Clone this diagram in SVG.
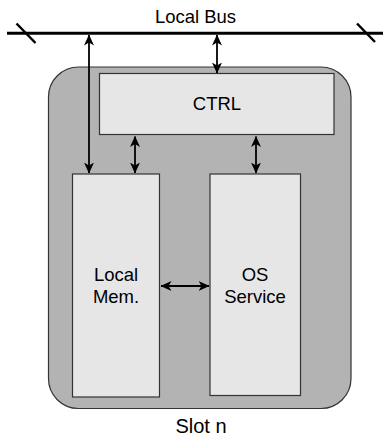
<svg xmlns="http://www.w3.org/2000/svg" width="383" height="437" viewBox="0 0 383 437">
<style>
.t{font-family:"Liberation Sans",Arial,sans-serif;font-size:18.5px;fill:#000;text-anchor:middle}
.box{fill:#e6e6e6;stroke:#333;stroke-width:1.2}
.c{stroke:#000;stroke-width:1.8;fill:none}
</style>
<defs>
<marker id="ah" viewBox="0 0 11 10" refX="10.5" refY="5" markerWidth="11" markerHeight="10" markerUnits="userSpaceOnUse" orient="auto-start-reverse">
<path d="M0,0 L11,5 L0,10 L3,5 z" fill="#000"/>
</marker>
</defs>
<rect width="383" height="437" fill="#fff"/>
<g id="bus">
<line x1="7" y1="33.3" x2="383" y2="33.3" stroke="#000" stroke-width="3"/>
<line x1="16.5" y1="23.5" x2="35.5" y2="43" stroke="#000" stroke-width="2.5"/>
<line x1="357" y1="23.5" x2="375" y2="42" stroke="#000" stroke-width="2.5"/>
<text class="t" x="195.5" y="23">Local Bus</text>
</g>
<g id="slot">
<rect x="48.5" y="67" width="302.5" height="341.5" rx="30" ry="30" fill="#b3b3b3" stroke="#333" stroke-width="1.2"/>
<text class="t" x="201" y="433" style="font-size:20px">Slot n</text>
</g>
<g id="ctrl">
<rect class="box" x="99.5" y="73.5" width="234.5" height="61"/>
<text class="t" x="217" y="109.5">CTRL</text>
</g>
<g id="localmem">
<rect class="box" x="72.5" y="174" width="87" height="223"/>
<text class="t" x="116" y="281">Local</text>
<text class="t" x="116" y="303">Mem.</text>
</g>
<g id="osservice">
<rect class="box" x="210" y="174" width="90.5" height="221.5"/>
<text class="t" x="255" y="281">OS</text>
<text class="t" x="255" y="303">Service</text>
</g>
<g id="connectors">
<line class="c" x1="89" y1="35" x2="89" y2="173" marker-start="url(#ah)" marker-end="url(#ah)"/>
<line class="c" x1="217" y1="35" x2="217" y2="73" marker-start="url(#ah)" marker-end="url(#ah)"/>
<line class="c" x1="135" y1="136.5" x2="135" y2="173" marker-start="url(#ah)" marker-end="url(#ah)"/>
<line class="c" x1="256" y1="136.5" x2="256" y2="173" marker-start="url(#ah)" marker-end="url(#ah)"/>
<line class="c" x1="161" y1="286" x2="209" y2="286" marker-start="url(#ah)" marker-end="url(#ah)"/>
</g>
</svg>
